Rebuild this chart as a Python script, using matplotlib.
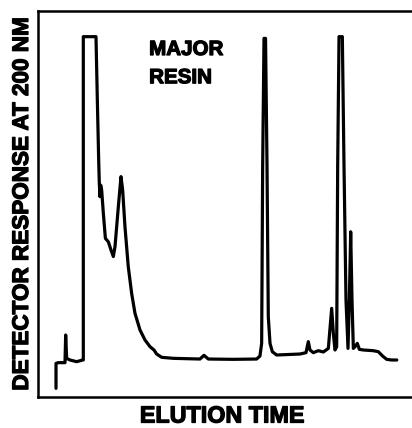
import matplotlib.pyplot as plt
import matplotlib.patheffects as pe

# chromatogram trace, read point by point (arbitrary units, 0-100)
elution_time = [4.83, 4.83, 5.45, 7.24, 7.42, 7.69, 8.58, 10.37, 11.97, 12.15,
                12.15, 15.55, 15.91, 16.27, 16.44, 16.62, 16.8, 17.07, 17.52, 18.07,
                18.86, 19.57, 20.2, 20.64, 21.54, 22.25, 22.7, 23.32, 24.2, 25.1,
                26.0, 27.35, 28.69, 30.03, 31.1, 31.81, 33.16, 36.28, 43.43, 44.5,
                45.67, 52.37, 58.62, 59.5, 59.96, 60.23, 60.59, 61.0, 61.4, 61.74,
                62.2, 62.82, 63.98, 70.24, 71.85, 72.47, 72.92, 73.8, 75.15, 76.5,
                77.84, 78.73, 79.18, 79.62, 80.07, 80.34, 80.7, 81.59, 82.04, 82.57,
                83.11, 83.47, 83.83, 84.18, 84.54, 85.0, 85.6, 86.15, 87.22, 89.9,
                91.24, 92.4, 93.48, 94.8, 96.2]
response = [2.25, 8.72, 8.9, 8.9, 16.06, 10.0, 9.59, 9.15, 9.59, 9.59,
            93.35, 93.35, 76.94, 61.4, 55.35, 51.9, 54.9, 53.6, 47.6, 41.1,
            40.2, 38.1, 36.4, 38.9, 49.3, 57.1, 53.6, 44.1, 33.8, 26.9,
            21.7, 17.36, 14.77, 13.04, 12.18, 11.14, 10.28, 10.02, 9.84, 10.8,
            9.84, 9.76, 9.84, 10.6, 13.9, 59.67, 92.9, 92.9, 59.67, 20.8,
            13.9, 11.74, 10.88, 11.14, 11.49, 14.34, 12.18, 11.49, 12.0, 11.66,
            12.6, 22.97, 16.5, 12.18, 13.04, 59.67, 93.35, 93.35, 59.67, 25.1,
            12.6, 25.1, 42.8, 25.1, 12.6, 13.04, 13.9, 12.35, 12.18, 12.0,
            11.74, 10.6, 9.76, 9.59, 9.59]

plt.rcParams['font.family'] = ['Liberation Sans', 'DejaVu Sans']

# thicker lettering, like the old typeset labels
heavy = [pe.withStroke(linewidth=0.9, foreground='black')]

fig = plt.figure(figsize=(4.12, 4.28), dpi=100)
ax = fig.add_axes([0.0922, 0.0724, 0.9054, 0.9019])

ax.plot(elution_time, response, color='black', lw=2.3,
        solid_joinstyle='round', solid_capstyle='round')

ax.set_xlim(0, 100)
ax.set_ylim(0, 100)
ax.set_xticks([])
ax.set_yticks([])
for side in ['left', 'bottom', 'top']:
    ax.spines[side].set_linewidth(1.8)
ax.spines['right'].set_visible(False)

ax.text(29.8, 88.6, 'MAJOR', fontsize=14.8, fontweight='bold', va='baseline',
        path_effects=heavy)
ax.text(29.8, 81.3, 'RESIN', fontsize=14.8, fontweight='bold', va='baseline',
        path_effects=heavy)

fig.text(0.0546, 0.523, 'DETECTOR RESPONSE AT 200 NM', rotation=90,
         fontsize=16.2, fontweight='bold', ha='center', va='center',
         path_effects=heavy)
fig.text(0.54, 0.028, 'ELUTION TIME', fontsize=16.8, fontweight='bold',
         ha='center', va='center', path_effects=heavy)

fig.savefig('out.png', dpi=100)
